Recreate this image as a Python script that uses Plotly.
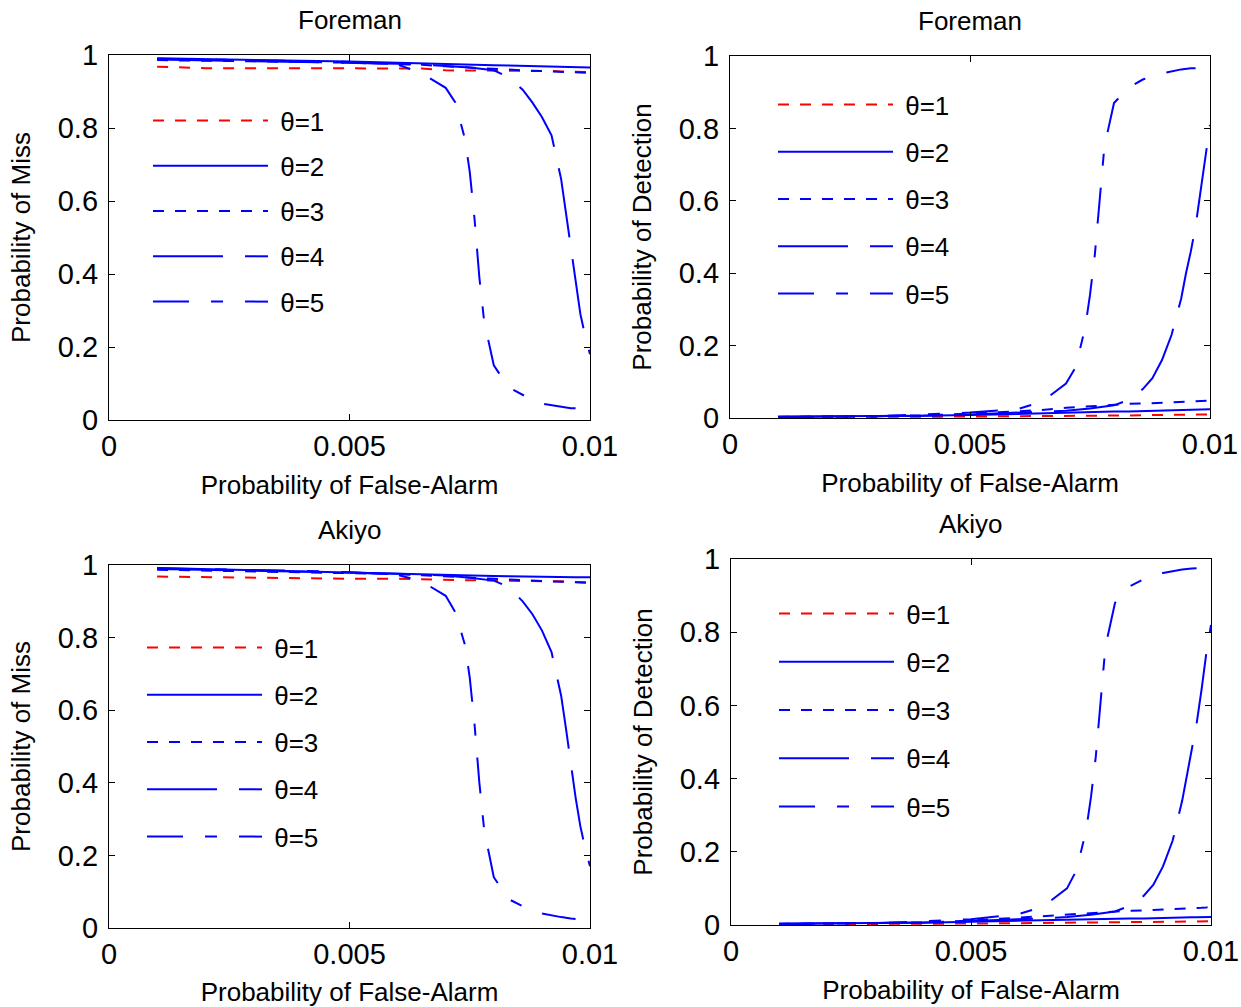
import plotly.graph_objects as go

# === data ===
X = [0.001, 0.002, 0.003, 0.004, 0.005, 0.006, 0.0065, 0.007, 0.0075, 0.008, 0.0083,
     0.0086, 0.0088, 0.009, 0.0092, 0.0094, 0.0095, 0.0096, 0.0097, 0.0098, 0.0099, 0.01]
X5 = [0.001, 0.002, 0.003, 0.004, 0.005, 0.006, 0.0065, 0.007, 0.0072, 0.0074, 0.0075, 0.0076,
      0.0077, 0.0078, 0.008, 0.0083, 0.0086, 0.0088, 0.009, 0.0092, 0.0094, 0.0096, 0.0097]

# Foreman - miss
fm_t1 = [0.968, 0.964, 0.964, 0.964, 0.964, 0.964, 0.963, 0.958, 0.958, 0.957, 0.957,
         0.957, 0.956, 0.956, 0.956, 0.955, 0.955, 0.955, 0.954, 0.953, 0.953, 0.953]
fm_t2 = [0.991, 0.988, 0.986, 0.984, 0.982, 0.978, 0.976, 0.974, 0.973, 0.972, 0.971,
         0.970, 0.969, 0.968, 0.968, 0.967, 0.967, 0.967, 0.966, 0.966, 0.966, 0.966]
fm_t3 = [0.986, 0.985, 0.983, 0.981, 0.979, 0.976, 0.973, 0.969, 0.965, 0.962, 0.960,
         0.958, 0.957, 0.956, 0.955, 0.954, 0.953, 0.953, 0.952, 0.952, 0.951, 0.951]
fm_t4 = [0.988, 0.986, 0.984, 0.982, 0.979, 0.976, 0.974, 0.971, 0.966, 0.958, 0.940,
         0.905, 0.870, 0.830, 0.780, 0.660, 0.570, 0.470, 0.380, 0.290, 0.230, 0.180]
fm_t5 = [0.990, 0.988, 0.986, 0.984, 0.981, 0.974, 0.950, 0.910, 0.870, 0.770, 0.680, 0.550,
         0.390, 0.270, 0.150, 0.090, 0.068, 0.055, 0.045, 0.040, 0.035, 0.032, 0.032]

# Foreman - detection
fd_t1 = [0.002, 0.002, 0.003, 0.003, 0.004, 0.005, 0.005, 0.006, 0.006, 0.007, 0.007,
         0.008, 0.008, 0.008, 0.009, 0.009, 0.009, 0.010, 0.010, 0.010, 0.010, 0.010]
fd_t2 = [0.004, 0.004, 0.005, 0.006, 0.008, 0.012, 0.013, 0.015, 0.016, 0.018, 0.018,
         0.019, 0.019, 0.020, 0.020, 0.021, 0.021, 0.021, 0.022, 0.022, 0.023, 0.024]
fd_t3 = [0.003, 0.004, 0.005, 0.007, 0.012, 0.018, 0.022, 0.028, 0.033, 0.038, 0.039,
         0.040, 0.041, 0.042, 0.042, 0.043, 0.044, 0.044, 0.045, 0.046, 0.047, 0.048]
fd_t4 = [0.003, 0.004, 0.005, 0.006, 0.010, 0.014, 0.017, 0.020, 0.026, 0.035, 0.050,
         0.080, 0.110, 0.160, 0.230, 0.330, 0.400, 0.460, 0.530, 0.620, 0.720, 0.810]
fd_t5 = [0.002, 0.003, 0.004, 0.010, 0.015, 0.025, 0.045, 0.095, 0.140, 0.250, 0.340, 0.450,
         0.590, 0.750, 0.870, 0.912, 0.935, 0.945, 0.952, 0.958, 0.963, 0.966, 0.966]

# Akiyo - miss
am_t1 = [0.968, 0.966, 0.966, 0.962, 0.962, 0.962, 0.960, 0.960, 0.958, 0.957, 0.957,
         0.956, 0.956, 0.956, 0.955, 0.955, 0.954, 0.954, 0.953, 0.953, 0.952, 0.952]
am_t2 = [0.992, 0.989, 0.987, 0.984, 0.981, 0.978, 0.976, 0.974, 0.972, 0.970, 0.969,
         0.968, 0.968, 0.967, 0.967, 0.967, 0.966, 0.966, 0.966, 0.966, 0.966, 0.966]
am_t3 = [0.987, 0.985, 0.983, 0.980, 0.978, 0.975, 0.972, 0.968, 0.964, 0.962, 0.960,
         0.959, 0.957, 0.956, 0.955, 0.954, 0.953, 0.953, 0.952, 0.952, 0.951, 0.951]
am_t4 = [0.989, 0.987, 0.985, 0.982, 0.979, 0.976, 0.974, 0.971, 0.965, 0.957, 0.940,
         0.900, 0.865, 0.820, 0.760, 0.640, 0.550, 0.450, 0.360, 0.280, 0.220, 0.170]
am_t5 = [0.991, 0.989, 0.987, 0.984, 0.980, 0.973, 0.955, 0.915, 0.870, 0.780, 0.690, 0.560,
         0.400, 0.270, 0.140, 0.080, 0.060, 0.048, 0.040, 0.034, 0.030, 0.026, 0.025]

# Akiyo - detection
ad_t1 = [0.002, 0.002, 0.003, 0.003, 0.004, 0.005, 0.006, 0.006, 0.007, 0.007, 0.008,
         0.008, 0.008, 0.009, 0.009, 0.009, 0.010, 0.010, 0.010, 0.010, 0.010, 0.010]
ad_t2 = [0.004, 0.004, 0.005, 0.006, 0.009, 0.012, 0.014, 0.015, 0.016, 0.017, 0.018,
         0.018, 0.019, 0.019, 0.020, 0.020, 0.021, 0.021, 0.021, 0.022, 0.022, 0.022]
ad_t3 = [0.003, 0.004, 0.005, 0.007, 0.012, 0.020, 0.024, 0.030, 0.034, 0.037, 0.039,
         0.040, 0.041, 0.042, 0.043, 0.043, 0.044, 0.045, 0.046, 0.047, 0.048, 0.050]
ad_t4 = [0.003, 0.004, 0.005, 0.007, 0.011, 0.015, 0.018, 0.022, 0.028, 0.037, 0.052,
         0.080, 0.110, 0.160, 0.230, 0.340, 0.410, 0.480, 0.550, 0.640, 0.740, 0.820]
ad_t5 = [0.002, 0.003, 0.005, 0.010, 0.016, 0.030, 0.050, 0.100, 0.150, 0.260, 0.350, 0.460,
         0.600, 0.760, 0.880, 0.925, 0.945, 0.955, 0.962, 0.967, 0.971, 0.974, 0.975]

labels = ["θ=1", "θ=2", "θ=3", "θ=4", "θ=5"]
x_ticks = [0, 0.005, 0.01]
x_ticktext = ["0", "0.005", "0.01"]
y_ticks = [0, 0.2, 0.4, 0.6, 0.8, 1]
y_ticktext = ["0", "0.2", "0.4", "0.6", "0.8", "1"]

panels = [
    dict(title="Foreman", ytitle="Probability of Miss", series=[fm_t1, fm_t2, fm_t3, fm_t4, fm_t5]),
    dict(title="Foreman", ytitle="Probability of Detection", series=[fd_t1, fd_t2, fd_t3, fd_t4, fd_t5]),
    dict(title="Akiyo", ytitle="Probability of Miss", series=[am_t1, am_t2, am_t3, am_t4, am_t5]),
    dict(title="Akiyo", ytitle="Probability of Detection", series=[ad_t1, ad_t2, ad_t3, ad_t4, ad_t5]),
]

# === styling ===
FONT = "Liberation Sans, Arial, Helvetica, sans-serif"
W, H = 1241, 1007
RED, BLUE = "#ff0000", "#0000ff"
styles = [
    dict(color=RED, width=2, dash="11px,11px"),
    dict(color=BLUE, width=2, dash="solid"),
    dict(color=BLUE, width=2, dash="11px,11px"),
    dict(color=BLUE, width=2, dash="70px,22px"),
    dict(color=BLUE, width=2, dash="36px,22px,12px,22px"),
]

# plot boxes in pixels: (left, right, top, bottom)
boxes = [(109, 590, 55, 420), (730, 1210, 56, 418),
         (109, 590, 565, 928), (731, 1211, 559, 925)]
# legend top-left corners in pixels and the gap between rows
legend_pos = [(148, 97), (773, 81), (142, 624), (774, 590)]
legend_gap = [8.5, 10.5, 10.5, 11.5]

fig = go.Figure()
layout = {}
annotations = []
NB = "\u00a0"

for i, (p, box) in enumerate(zip(panels, boxes)):
    n = "" if i == 0 else str(i + 1)
    lg = "legend" if i == 0 else f"legend{i + 1}"
    for k in range(5):
        fig.add_trace(go.Scatter(
            x=X5 if k == 4 else X,
            y=p["series"][k],
            mode="lines",
            line=styles[k],
            name=NB + labels[k],
            xaxis=f"x{n}", yaxis=f"y{n}",
            legend=lg,
            legendgroup=f"{i}-{k}",
        ))

    l, r, t, b = box
    common = dict(showline=True, mirror="ticks", linecolor="black", linewidth=1.3,
                  ticks="inside", ticklen=6, tickcolor="black", showgrid=False,
                  zeroline=False, automargin=False,
                  tickfont=dict(family=FONT, size=29, color="black"))
    layout[f"xaxis{n}"] = dict(
        domain=[l / W, r / W], range=[0, 0.01], anchor=f"y{n}",
        tickvals=x_ticks, ticktext=x_ticktext,
        title=dict(text="Probability of False-Alarm", standoff=14,
                   font=dict(family=FONT, size=26, color="black")),
        **common)
    layout[f"yaxis{n}"] = dict(
        domain=[1 - b / H, 1 - t / H], range=[0, 1], anchor=f"x{n}",
        tickvals=y_ticks, ticktext=y_ticktext, ticklabelstandoff=4,
        title=dict(text=p["ytitle"], standoff=19,
                   font=dict(family=FONT, size=26, color="black")),
        **common)

    lx, ly = legend_pos[i]
    layout[lg] = dict(x=lx / W, y=1 - ly / H, xanchor="left", yanchor="top",
                      bgcolor="rgba(0,0,0,0)", itemwidth=115, tracegroupgap=legend_gap[i],
                      font=dict(family=FONT, size=26, color="black"))

    annotations.append(dict(
        text=p["title"], xref="paper", yref="paper",
        x=(l + r) / 2 / W, y=1 - (t - 18) / H, xanchor="center", yanchor="bottom",
        showarrow=False, font=dict(family=FONT, size=26, color="black")))

fig.update_layout(
    width=W, height=H,
    margin=dict(l=0, r=0, t=0, b=0, autoexpand=False),
    plot_bgcolor="white", paper_bgcolor="white",
    annotations=annotations,
    showlegend=True,
    **layout,
)

fig.write_html("out.html", config={"displayModeBar": False},
               post_script="document.body.style.margin='0px';")
